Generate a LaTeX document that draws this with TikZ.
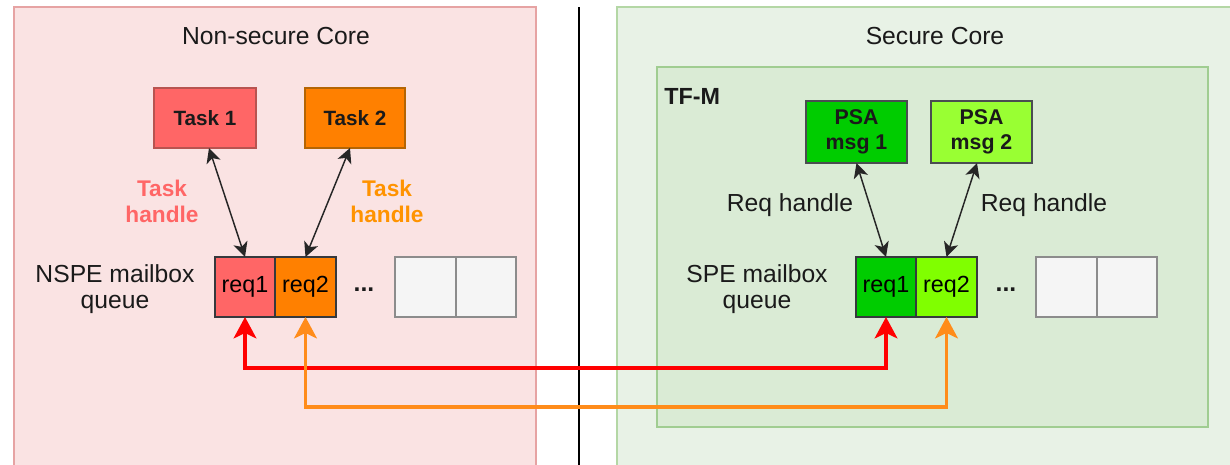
\documentclass[tikz,border=0pt]{standalone}
\usepackage{fontspec}
\setmainfont{Liberation Sans}
\usetikzlibrary{arrows.meta,calc}
\definecolor{nsfill}{HTML}{FAE3E3}
\definecolor{nsborder}{HTML}{E6A3A3}
\definecolor{sfill}{HTML}{E8F2E6}
\definecolor{sborder}{HTML}{B4D7A5}
\definecolor{tfmfill}{HTML}{DAEBD5}
\definecolor{tfmborder}{HTML}{A0CD91}
\definecolor{redfill}{HTML}{FF6666}
\definecolor{orangefill}{HTML}{FF8000}
\definecolor{task1border}{HTML}{B85450}
\definecolor{task2border}{HTML}{B46504}
\definecolor{greenA}{HTML}{00CC00}
\definecolor{greenB}{HTML}{99FF33}
\definecolor{greenC}{HTML}{80FF00}
\definecolor{cellborder}{HTML}{36393D}
\definecolor{emptyfill}{HTML}{F5F5F5}
\definecolor{emptyborder}{HTML}{8C8C8C}
\definecolor{textdark}{HTML}{1A1A1A}
\definecolor{busred}{HTML}{FF0000}
\definecolor{busorange}{HTML}{FF8C1A}
\tikzset{
  sz/.style 2 args={minimum width=#1*0.75pt, minimum height=#2*0.75pt, inner sep=0pt, outer sep=0pt},
  container/.style={line width=0.9pt},
  titletext/.style={font=\fontsize{18.5}{20}\selectfont, text=textdark, inner sep=0pt},
  labeltext/.style={font=\fontsize{18.5}{19.5}\selectfont, text=textdark, align=center, inner sep=0pt},
  handletext/.style={font=\bfseries\fontsize{17}{19.5}\selectfont, align=center, inner sep=0pt},
  taskbox/.style={line width=1.1pt, font=\bfseries\fontsize{15.5}{18}\selectfont, text=textdark},
  psabox/.style={line width=1.1pt, draw=cellborder!90, font=\bfseries\fontsize{16}{19}\selectfont, text=textdark, align=center},
  cell/.style={line width=1.1pt, draw=cellborder, font=\fontsize{17.5}{20}\selectfont, text=black},
  emptycell/.style={line width=1.1pt, draw=emptyborder, fill=emptyfill},
  dotstext/.style={font=\bfseries\fontsize{18.5}{20}\selectfont, text=textdark, inner sep=0pt},
  harrow/.style={line width=1.1pt, draw=black!85, {Stealth[length=11pt,width=11pt,inset=3pt]}-{Stealth[length=11pt,width=11pt,inset=3pt]}},
  bus/.style={line width=2.8pt, {Stealth[length=16pt,width=17pt,inset=4pt]}-{Stealth[length=16pt,width=17pt,inset=4pt]}}
}
\begin{document}
\begin{tikzpicture}[x=0.75pt,y=-0.75pt]
\useasboundingbox (0,0) rectangle (1230,464);
\clip (0,0) rectangle (1230,464);
\fill[white] (0,0) rectangle (1230,464);

% containers
\node[sz={522}{463}, container, fill=nsfill, draw=nsborder] (ns) at (275,238.5) {};
\node[sz={620}{463}, container, fill=sfill, draw=sborder] (sc) at (927,238.5) {};
\node[sz={551}{360}, container, fill=tfmfill, draw=tfmborder] (tfm) at (932.5,247) {};
\coordinate (sepTop) at (579,7);
\coordinate (sepBot) at (579,470);
\draw[line width=1.5pt, black] (sepTop) -- (sepBot);

% titles
\node[titletext] (nstitle) at (276,36) {Non-secure Core};
\node[titletext] (sctitle) at (935,36) {Secure Core};
\node[titletext, anchor=west, font=\bfseries\fontsize{17.5}{20}\selectfont] (tfmlabel) at (664,96) {TF-M};

% non-secure side
\node[sz={102}{60}, taskbox, fill=redfill, draw=task1border] (t1) at (205,118) {Task 1};
\node[sz={100}{60}, taskbox, fill=orangefill, draw=task2border] (t2) at (355,118) {Task 2};
\node[handletext, text=redfill] (th1) at (162,201) {Task\\handle};
\node[handletext, text=orangefill!85!yellow] (th2) at (387,201) {Task\\handle};
\node[labeltext] (nslabel) at (115,289) {NSPE mailbox\\queue};
\node[sz={60}{60}, cell, fill=redfill] (nreq1) at (245,287) {req1};
\node[sz={61}{60}, cell, fill=orangefill] (nreq2) at (305.5,287) {req2};
\node[dotstext] (ndots) at (364,290) {...};
\node[sz={61}{60}, emptycell] (ne1) at (425.5,287) {};
\node[sz={60}{60}, emptycell] (ne2) at (486,287) {};

% secure side
\node[sz={101}{62}, psabox, fill=greenA] (psa1) at (856.5,132) {PSA\\msg 1};
\node[sz={101}{62}, psabox, fill=greenB] (psa2) at (981.5,132) {PSA\\msg 2};
\node[labeltext] (rh1) at (790,205) {Req handle};
\node[labeltext] (rh2) at (1044,205) {Req handle};
\node[labeltext] (slabel) at (757,289) {SPE mailbox\\queue};
\node[sz={60}{60}, cell, fill=greenA] (sreq1) at (886,287) {req1};
\node[sz={61}{60}, cell, fill=greenC] (sreq2) at (946.5,287) {req2};
\node[dotstext] (sdots) at (1006,290) {...};
\node[sz={61}{60}, emptycell] (se1) at (1066.5,287) {};
\node[sz={60}{60}, emptycell] (se2) at (1127,287) {};

% handle arrows
\draw[harrow] ($(t1.south)+(4,0)$) -- (nreq1.north);
\draw[harrow] ($(t2.south)+(-5,0)$) -- (nreq2.north);
\draw[harrow] (psa1.south) -- (sreq1.north);
\draw[harrow] ($(psa2.south)+(-4.5,0)$) -- (sreq2.north);

% buses
\draw[bus, busred] (nreq1.south) -- ++(0,51) -| (sreq1.south);
\draw[bus, busorange] (nreq2.south) -- ++(0,90) -| (sreq2.south);
\end{tikzpicture}
\end{document}
